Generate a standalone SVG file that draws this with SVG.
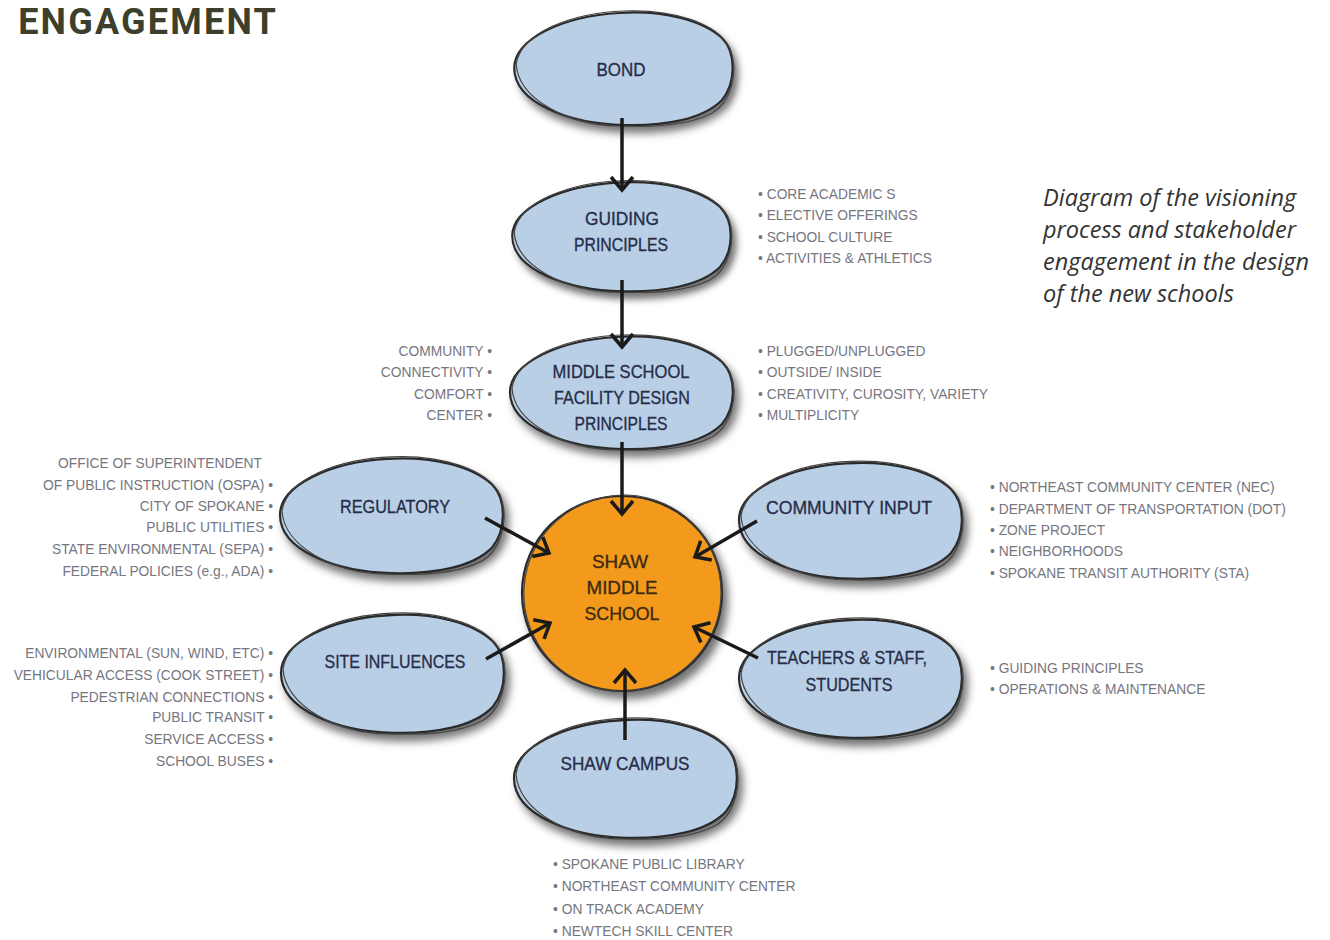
<svg xmlns="http://www.w3.org/2000/svg" width="1330" height="940" viewBox="0 0 1330 940">
<defs>
<filter id="sh" x="-20%" y="-20%" width="150%" height="160%">
<feDropShadow dx="5" dy="7" stdDeviation="4" flood-color="#000" flood-opacity="0.55"/>
</filter>
<path id="blob" d="M -112,0 C -112,-30 -60,-52 -5,-55 C 40,-58 80,-48 100,-30 C 115,-15 114,15 100,32 C 80,52 40,58 0,57 C -55,56 -112,35 -112,0 Z"/>
<path id="blob2" d="M -110,-4 C -105,-35 -55,-55 0,-57 C 50,-59 95,-45 108,-20 C 118,5 108,35 90,45 C 65,58 30,59 -5,58 C -60,57 -108,30 -110,-4 Z"/>
<path id="circ" d="M -100,0 C -100,-55 -55,-97 0,-97 C 55,-97 100,-55 100,0 C 100,55 55,98 0,98 C -55,98 -100,55 -100,0 Z"/>
<path id="circ2" d="M -98,-5 C -95,-58 -50,-99 5,-98 C 60,-96 102,-50 99,5 C 96,58 50,100 -5,98 C -58,96 -101,50 -98,-5 Z"/>
<marker id="arr" markerUnits="userSpaceOnUse" markerWidth="30" markerHeight="30" refX="0" refY="0" viewBox="-16 -15 20 30" orient="auto" overflow="visible">
<path d="M -13,-11 L 0,0 L -13,11" fill="none" stroke="#1a1a1a" stroke-width="3.5" stroke-linejoin="miter"/>
</marker>
</defs>
<style>
.fill{fill:#b9cfe6;stroke:#2a2a2a;stroke-width:2.2;filter:url(#sh)}
.out{fill:none;stroke:#444;stroke-width:1.2}
.ofill{fill:#f39a1e;stroke:#2a2a2a;stroke-width:2.2;filter:url(#sh)}
.lbl{font-family:"Liberation Sans",Arial,sans-serif;font-size:17.5px;fill:#262c48;text-anchor:middle;stroke:#262c48;stroke-width:0.3}
.lbl2{font-family:"Liberation Sans",Arial,sans-serif;font-size:17.5px;fill:#3a2a10;text-anchor:middle;stroke:#3a2a10;stroke-width:0.3}
.li{font-family:"Liberation Sans",Arial,sans-serif;font-size:13.8px;fill:#76767f}
.r{text-anchor:end}
.cap{font-family:"Open Sans",sans-serif;font-style:italic;font-size:23.5px;fill:#333}
.con{stroke:#1a1a1a;stroke-width:3.5;fill:none;marker-end:url(#arr)}
</style>
<rect width="1330" height="940" fill="#fff"/>
<text x="278" y="34" text-anchor="end" font-family="Roboto,'Liberation Sans',sans-serif" font-weight="700" font-size="36" letter-spacing="2.2" fill="#3b3f2b">ENGAGEMENT</text>
<g id="caption" class="cap">
<text x="1043" y="206">Diagram of the visioning</text>
<text x="1043" y="238">process and stakeholder</text>
<text x="1043" y="270">engagement in the design</text>
<text x="1043" y="302">of the new schools</text>
</g>
<g id="bond">
<use href="#blob" class="fill" transform="translate(624,68) scale(0.98,1)"/>
<use href="#blob2" class="out" transform="translate(624,68) scale(0.98,1)"/>
<text class="lbl" x="621" y="76" textLength="49" lengthAdjust="spacingAndGlyphs">BOND</text>
</g>
<g id="guiding">
<use href="#blob" class="fill" transform="translate(622,236) scale(0.98,0.97)"/>
<use href="#blob2" class="out" transform="translate(622,236) scale(0.98,0.97)"/>
<text class="lbl" x="622" y="225" textLength="74" lengthAdjust="spacingAndGlyphs">GUIDING</text>
<text class="lbl" x="621" y="251" textLength="94" lengthAdjust="spacingAndGlyphs">PRINCIPLES</text>
<g class="li">
<text x="758" y="199">• CORE ACADEMIC S</text>
<text x="758" y="220">• ELECTIVE OFFERINGS</text>
<text x="758" y="242">• SCHOOL CULTURE</text>
<text x="758" y="263">• ACTIVITIES &amp; ATHLETICS</text>
</g>
</g>
<g id="msfdp">
<use href="#blob" class="fill" transform="translate(622,392) scale(1,1)"/>
<use href="#blob2" class="out" transform="translate(622,392) scale(1,1)"/>
<text class="lbl" x="621" y="378" textLength="137" lengthAdjust="spacingAndGlyphs">MIDDLE SCHOOL</text>
<text class="lbl" x="622" y="404" textLength="136" lengthAdjust="spacingAndGlyphs">FACILITY DESIGN</text>
<text class="lbl" x="621" y="430" textLength="93" lengthAdjust="spacingAndGlyphs">PRINCIPLES</text>
<g class="li r">
<text x="492" y="356">COMMUNITY •</text>
<text x="492" y="377">CONNECTIVITY •</text>
<text x="492" y="399">COMFORT •</text>
<text x="492" y="420">CENTER •</text>
</g>
<g class="li">
<text x="758" y="356">• PLUGGED/UNPLUGGED</text>
<text x="758" y="377">• OUTSIDE/ INSIDE</text>
<text x="758" y="399">• CREATIVITY, CUROSITY, VARIETY</text>
<text x="758" y="420">• MULTIPLICITY</text>
</g>
</g>
<g id="regulatory">
<use href="#blob" class="fill" transform="translate(392,515) scale(1,1.02)"/>
<use href="#blob2" class="out" transform="translate(392,515) scale(1,1.02)"/>
<text class="lbl" x="395" y="513" textLength="110" lengthAdjust="spacingAndGlyphs">REGULATORY</text>
<g class="li r">
<text x="262" y="468">OFFICE OF SUPERINTENDENT</text>
<text x="273" y="490">OF PUBLIC INSTRUCTION (OSPA) •</text>
<text x="273" y="511">CITY OF SPOKANE •</text>
<text x="273" y="532">PUBLIC UTILITIES •</text>
<text x="273" y="554">STATE ENVIRONMENTAL (SEPA) •</text>
<text x="273" y="576">FEDERAL POLICIES (e.g., ADA) •</text>
</g>
</g>
<g id="community">
<use href="#blob" class="fill" transform="translate(851,520) scale(1,1.03)"/>
<use href="#blob2" class="out" transform="translate(851,520) scale(1,1.03)"/>
<text class="lbl" x="849" y="514" textLength="166" lengthAdjust="spacingAndGlyphs">COMMUNITY INPUT</text>
<g class="li">
<text x="990" y="492">• NORTHEAST COMMUNITY CENTER (NEC)</text>
<text x="990" y="514">• DEPARTMENT OF TRANSPORTATION (DOT)</text>
<text x="990" y="535">• ZONE PROJECT</text>
<text x="990" y="556">• NEIGHBORHOODS</text>
<text x="990" y="578">• SPOKANE TRANSIT AUTHORITY (STA)</text>
</g>
</g>
<g id="shaw">
<use href="#circ" class="ofill" transform="translate(622,593)"/>
<use href="#circ2" class="out" transform="translate(622,593)"/>
<text class="lbl2" x="620" y="568" textLength="56" lengthAdjust="spacingAndGlyphs">SHAW</text>
<text class="lbl2" x="622" y="594" textLength="71" lengthAdjust="spacingAndGlyphs">MIDDLE</text>
<text class="lbl2" x="622" y="620" textLength="75" lengthAdjust="spacingAndGlyphs">SCHOOL</text>
</g>
<g id="site">
<use href="#blob" class="fill" transform="translate(393,673) scale(1,1.05)"/>
<use href="#blob2" class="out" transform="translate(393,673) scale(1,1.05)"/>
<text class="lbl" x="395" y="668" textLength="141" lengthAdjust="spacingAndGlyphs">SITE INFLUENCES</text>
<g class="li r">
<text x="273" y="658">ENVIRONMENTAL (SUN, WIND, ETC) •</text>
<text x="273" y="680">VEHICULAR ACCESS (COOK STREET) •</text>
<text x="273" y="702">PEDESTRIAN CONNECTIONS •</text>
<text x="273" y="722">PUBLIC TRANSIT •</text>
<text x="273" y="744">SERVICE ACCESS •</text>
<text x="273" y="766">SCHOOL BUSES •</text>
</g>
</g>
<g id="teachers">
<use href="#blob" class="fill" transform="translate(851,678) scale(1,1.05)"/>
<use href="#blob2" class="out" transform="translate(851,678) scale(1,1.05)"/>
<text class="lbl" x="847" y="664" textLength="160" lengthAdjust="spacingAndGlyphs">TEACHERS &amp; STAFF,</text>
<text class="lbl" x="849" y="691" textLength="87" lengthAdjust="spacingAndGlyphs">STUDENTS</text>
<g class="li">
<text x="990" y="673">• GUIDING PRINCIPLES</text>
<text x="990" y="694">• OPERATIONS &amp; MAINTENANCE</text>
</g>
</g>
<g id="campus">
<use href="#blob" class="fill" transform="translate(626,778) scale(1,1.05)"/>
<use href="#blob2" class="out" transform="translate(626,778) scale(1,1.05)"/>
<text class="lbl" x="625" y="770" textLength="129" lengthAdjust="spacingAndGlyphs">SHAW CAMPUS</text>
<g class="li">
<text x="553" y="869">• SPOKANE PUBLIC LIBRARY</text>
<text x="553" y="891">• NORTHEAST COMMUNITY CENTER</text>
<text x="553" y="914">• ON TRACK ACADEMY</text>
<text x="553" y="936">• NEWTECH SKILL CENTER</text>
</g>
</g>
<g id="connectors">
<line class="con" x1="622" y1="118" x2="622" y2="190"/>
<line class="con" x1="622" y1="280" x2="622" y2="347"/>
<line class="con" x1="622" y1="442" x2="622" y2="514"/>
<line class="con" x1="485" y1="518" x2="549" y2="553"/>
<line class="con" x1="757" y1="521" x2="695" y2="557"/>
<line class="con" x1="486" y1="659" x2="550" y2="623"/>
<line class="con" x1="758" y1="658" x2="694" y2="627"/>
<line class="con" x1="625" y1="740" x2="625" y2="670"/>
</g>
</svg>
